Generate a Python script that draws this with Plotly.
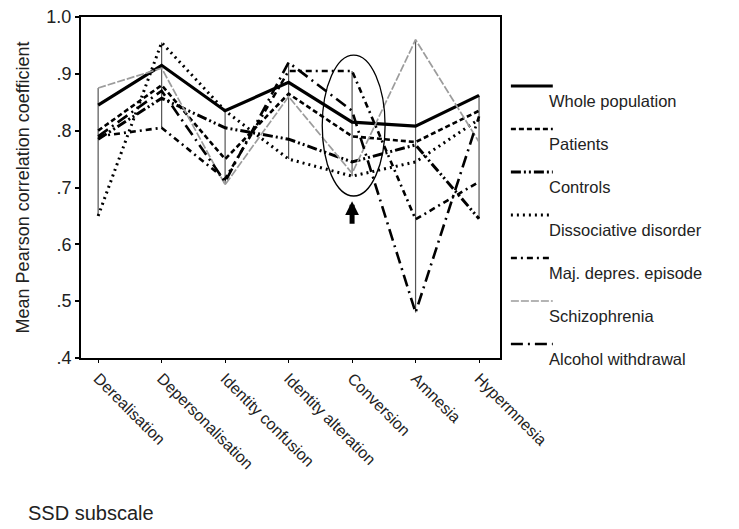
import plotly.graph_objects as go

categories = ["Derealisation", "Depersonalisation", "Identity confusion",
              "Identity alteration", "Conversion", "Amnesia", "Hypermnesia"]

whole_population = [0.845, 0.915, 0.835, 0.885, 0.815, 0.808, 0.862]
patients = [0.800, 0.880, 0.750, 0.865, 0.790, 0.780, 0.835]
controls = [0.785, 0.857, 0.805, 0.785, 0.745, 0.775, 0.645]
dissociative = [0.650, 0.955, 0.835, 0.750, 0.720, 0.745, 0.820]
maj_depres = [0.790, 0.805, 0.715, 0.905, 0.905, 0.644, 0.710]
schizophrenia = [0.875, 0.910, 0.705, 0.860, 0.725, 0.960, 0.780]
alcohol = [0.790, 0.870, 0.710, 0.920, 0.835, 0.480, 0.825]

y_ticks = [0.4, 0.5, 0.6, 0.7, 0.8, 0.9, 1.0]
y_tick_labels = [".4", ".5", ".6", ".7", ".8", ".9", "1.0"]

series = [
    ("Whole population", whole_population, "black", 3.2, "solid"),
    ("Patients", patients, "black", 2.6, "5px,3px"),
    ("Controls", controls, "black", 3.0, "10px,3px,2px,3px,2px,3px"),
    ("Dissociative disorder", dissociative, "black", 3.0, "2px,4px"),
    ("Maj. depres. episode", maj_depres, "black", 2.6, "6px,4px,2px,4px"),
    ("Schizophrenia", schizophrenia, "#9c9c9c", 1.7, "8px,2px"),
    ("Alcohol withdrawal", alcohol, "black", 2.6, "12px,5px,2px,5px"),
]

FONT = "Liberation Sans, Arial, sans-serif"
xs = list(range(len(categories)))
fig = go.Figure()

# high-low range lines at each subscale
all_vals = [s[1] for s in series]
rx, ry = [], []
for i in xs:
    col = [v[i] for v in all_vals]
    rx += [i, i, None]
    ry += [min(col), max(col), None]
fig.add_trace(go.Scatter(x=rx, y=ry, mode="lines",
                         line=dict(color="#555555", width=1.2),
                         showlegend=False, hoverinfo="skip"))

for name, vals, color, width, dash in series:
    fig.add_trace(go.Scatter(x=xs, y=vals, mode="lines", name=name,
                             line=dict(color=color, width=width, dash=dash),
                             showlegend=False))

# manual legend (sample line above-left, label below-right)
shapes = []
annotations = []
for k, (name, vals, color, width, dash) in enumerate(series):
    yy = 1.0 - (86 + 43 * k - 17) / 341.0
    shapes.append(dict(type="line", xref="paper", yref="paper",
                       x0=1.026, x1=1.126, y0=yy, y1=yy,
                       line=dict(color=color, width=width, dash=dash)))
    annotations.append(dict(xref="paper", yref="paper", x=1.112, y=yy - 0.012,
                            text=name, showarrow=False, xanchor="left",
                            yanchor="top",
                            font=dict(size=16.5, color="#222", family=FONT)))

# ellipse highlighting conversion
shapes.append(dict(type="circle", xref="x", yref="y",
                   x0=3.53, x1=4.52, y0=0.685, y1=0.933,
                   line=dict(color="black", width=1.3)))

# arrow
annotations.append(dict(x=4, y=0.676, xref="x", yref="y", ax=0, ay=24,
                        showarrow=True, arrowhead=2, arrowwidth=5,
                        arrowsize=0.55, arrowcolor="black", text=""))

annotations.append(dict(xref="paper", yref="paper", x=-0.132, y=-0.455,
                        text="SSD subscale", showarrow=False,
                        xanchor="left", yanchor="middle",
                        font=dict(size=20, color="#222", family=FONT)))

fig.update_layout(
    width=739, height=529,
    margin=dict(l=81, r=239, t=17, b=171),
    plot_bgcolor="white", paper_bgcolor="white",
    shapes=shapes, annotations=annotations,
    font=dict(family=FONT, color="#222"),
)
fig.update_xaxes(
    range=[-0.27, 6.33], tickmode="array", tickvals=xs, ticktext=categories,
    tickangle=45, ticks="outside", ticklen=3, tickcolor="black",
    showline=True, linecolor="black", linewidth=2, mirror=True,
    showgrid=False, zeroline=False, automargin=False,
    tickfont=dict(size=16, family="Liberation Sans Narrow, " + FONT, color="#222"),
)
fig.update_yaxes(
    range=[0.4, 1.0], tickmode="array", tickvals=y_ticks, ticktext=y_tick_labels,
    ticks="outside", ticklen=4, tickwidth=2, tickcolor="black",
    showline=True, linecolor="black", linewidth=2, mirror=True,
    showgrid=False, zeroline=False, automargin=False,
    tickfont=dict(size=18, color="#222"),
    title=dict(text="Mean Pearson correlation coefficient",
               font=dict(size=18, color="#222"), standoff=12),
)

fig.write_html("out.html",
               config={"displayModeBar": False},
               post_script="document.body.style.margin='0';document.body.style.overflow='hidden';")
